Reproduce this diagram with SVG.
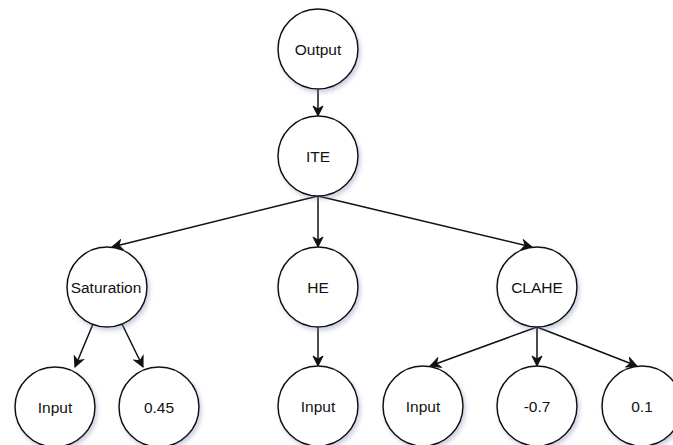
<svg xmlns="http://www.w3.org/2000/svg" width="673" height="445" viewBox="0 0 673 445">
<style>
.n circle{fill:#fff;stroke:#111;stroke-width:1.5;filter:url(#sh)}
.n text{font-family:"Liberation Sans",Arial,sans-serif;font-size:15.5px;fill:#111;text-anchor:middle;dominant-baseline:central}
.e path{fill:none;stroke:#111;stroke-width:1.5;marker-end:url(#ar)}
</style>
<defs>
<filter id="sh" x="-20%" y="-20%" width="150%" height="150%">
<feDropShadow dx="2" dy="3" stdDeviation="2" flood-color="#6a78a8" flood-opacity="0.35"/>
</filter>
<marker id="ar" markerWidth="12" markerHeight="12" viewBox="0 0 12 12" refX="11" refY="6" orient="auto" markerUnits="userSpaceOnUse">
<path d="M1,1 L11,6 L1,11 L4,6 z" fill="#111" stroke="#111" stroke-width="1"/>
</marker>
</defs>
<rect width="673" height="445" fill="#fff"/>
<g class="e">
<path d="M318,89 L318,116"/>
<path d="M318,196 L112,247"/>
<path d="M318,196 L318,247"/>
<path d="M318,196 L532,247"/>
<path d="M93,324 L75,367"/>
<path d="M122,324 L143,367"/>
<path d="M318,327 L318,366"/>
<path d="M537,327 L430,366"/>
<path d="M537,327 L537,366"/>
<path d="M537,327 L637,366"/>
</g>
<g class="n" id="output"><circle cx="318" cy="49" r="40"/><text x="318" y="49">Output</text></g>
<g class="n" id="ite"><circle cx="318" cy="156" r="40"/><text x="318" y="156">ITE</text></g>
<g class="n" id="saturation"><circle cx="107" cy="287" r="40"/><text x="106" y="287">Saturation</text></g>
<g class="n" id="he"><circle cx="318" cy="287" r="40"/><text x="318" y="287">HE</text></g>
<g class="n" id="clahe"><circle cx="537" cy="287" r="40"/><text x="537" y="287">CLAHE</text></g>
<g class="n" id="input1"><circle cx="55" cy="407" r="40"/><text x="55" y="407">Input</text></g>
<g class="n" id="c045"><circle cx="159" cy="407" r="40"/><text x="159" y="407">0.45</text></g>
<g class="n" id="input2"><circle cx="318" cy="406" r="40"/><text x="318" y="406">Input</text></g>
<g class="n" id="input3"><circle cx="423" cy="406" r="40"/><text x="423" y="406">Input</text></g>
<g class="n" id="cm07"><circle cx="537" cy="406" r="40"/><text x="537" y="406">-0.7</text></g>
<g class="n" id="c01"><circle cx="642" cy="406" r="40"/><text x="642" y="406">0.1</text></g>
</svg>
